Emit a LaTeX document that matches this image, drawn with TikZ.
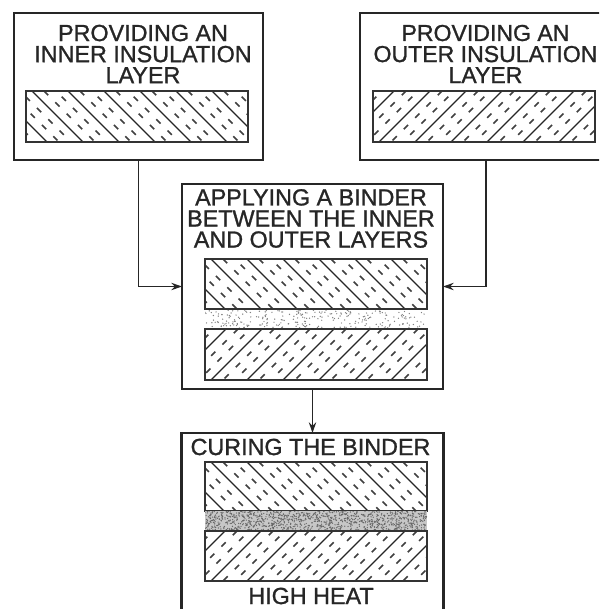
\documentclass[tikz,border=0pt]{standalone}
\usepackage{fontspec}
\setmainfont[AutoFakeBold=1.1]{Liberation Sans}
\usetikzlibrary{arrows.meta}
\tikzset{
  stepbox/.style={draw=black!85,line width=1.6pt,inner sep=0pt,outer sep=0pt,fill=white},
  steptext/.style={inner sep=0pt,align=center,text=black!85,font=\fontsize{17.5}{15.8}\selectfont\bfseries},
  widetext/.style={steptext,font=\fontsize{17.3}{15.8}\selectfont\bfseries},
  flow/.style={draw=black!85,line width=.95pt,-{Stealth[length=8pt,width=5.5pt]}},
  hatchline/.style={draw=black!85,line width=1pt},
  hatchdash/.style={draw=black!75,line width=1.25pt,dash pattern=on 4.5pt off 7.5pt},
  bandframe/.style={draw=black!80,line width=1pt}
}
% #1 x0, #2 y0, #3 x1, #4 y1, #5 = 0 for a falling hatch, 1 for a rising hatch
\newcommand{\hatchband}[5]{%
  \pgfmathsetmacro{\hh}{#4-#2}%
  \pgfmathsetmacro{\ta}{#5*\hh}%
  \pgfmathsetmacro{\tb}{(1-#5)*\hh}%
  \begin{scope}
    \clip (#1,#2) rectangle (#3,#4);
    \foreach \k in {-3,...,8}{
      \pgfmathsetmacro{\s}{#1+\k*36+6}
      \pgfmathsetmacro{\sa}{\s+\ta}\pgfmathsetmacro{\sb}{\s+\tb}
      \pgfmathsetmacro{\da}{\sa+12}\pgfmathsetmacro{\db}{\sb+12}
      \pgfmathsetmacro{\ea}{\sa+24}\pgfmathsetmacro{\eb}{\sb+24}
      \draw[hatchline] (\sa,#2) -- (\sb,#4);
      \draw[hatchdash] (\da,#2) -- (\db,#4);
      \draw[hatchdash,dash phase=6pt] (\ea,#2) -- (\eb,#4);
    }
  \end{scope}
  \draw[bandframe] (#1,#2) rectangle (#3,#4);
}
% #1 x0, #2 y0, #3 x1, #4 y1, #5 count, #6 dot colour, #7 seed
\newcommand{\binderband}[7]{%
  \pgfmathsetseed{#7}%
  \pgfmathsetmacro{\bw}{#3-#1}\pgfmathsetmacro{\bh}{#4-#2}%
  \begin{scope}
    \clip (#1,#2) rectangle (#3,#4);
    \foreach \n in {1,...,#5}{
      \pgfmathsetmacro{\px}{#1+rnd*\bw}
      \pgfmathsetmacro{\py}{#2+rnd*\bh}
      \fill[#6] (\px,\py) circle (.7);
    }
  \end{scope}
}
\begin{document}
\begin{tikzpicture}[x=.75pt,y=-.75pt]
\useasboundingbox (0,0) rectangle (599,609);
\fill[white] (0,0) rectangle (599,609);
\clip (0,0) rectangle (599,609);

\node[stepbox,minimum width=186.75pt,minimum height=110.25pt] (inner) at (138.5,86.5) {};
\node[stepbox,minimum width=189pt,minimum height=110.25pt] (outer) at (486,86.5) {};
\node[stepbox,minimum width=195.75pt,minimum height=153.75pt] (apply) at (312.5,286.5) {};
\node[stepbox,minimum width=196.5pt,minimum height=150pt] (cure) at (312.5,533) {};

\node[steptext] (innertext) at (143,54) {PROVIDING AN\\INNER INSULATION\\LAYER};
\node[widetext] (outertext) at (485.5,54) {PROVIDING AN\\OUTER INSULATION\\LAYER};
\node[steptext] (applytext) at (311,218.5) {APPLYING A BINDER\\BETWEEN THE INNER\\AND OUTER LAYERS};
\node[steptext] (curetext) at (310.5,447) {CURING THE BINDER};
\node[steptext] (heattext) at (311,596) {HIGH HEAT};

\hatchband{26}{91}{248}{142}{0}
\hatchband{373}{91}{595}{142}{1}

\hatchband{205}{259}{427}{309}{0}
\binderband{205}{310}{427}{328}{260}{black!50}{7}
\draw[bandframe] (205,329) -- (427,329);
\hatchband{205}{329}{427}{380}{1}

\hatchband{205}{462}{427}{511}{0}
\fill[black!22] (205,511) rectangle (427,531);
\binderband{205}{511}{427}{531}{1100}{black!60}{11}
\hatchband{205}{531}{427}{581}{1}

\draw[flow] (inner.south) |- (apply.west);
\draw[flow] (outer.south) |- (apply.east);
\draw[flow] (apply.south) -- (cure.north);
\end{tikzpicture}
\end{document}
